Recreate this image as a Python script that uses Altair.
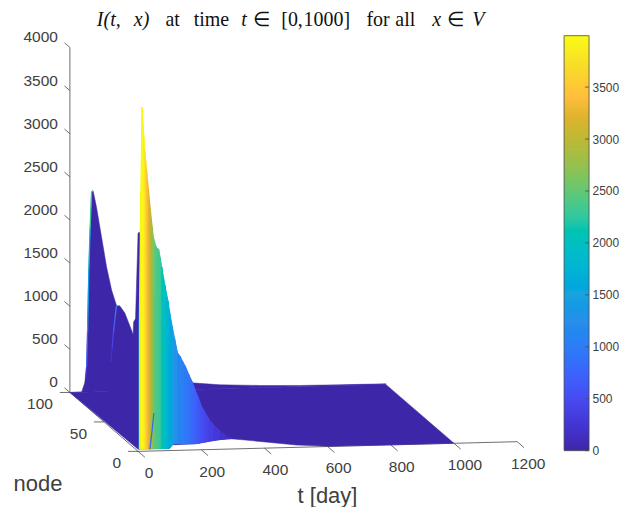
import numpy as np
import pandas as pd
import altair as alt

# ---------- data ----------
# colour scale
cmap_values = [0, 250, 500, 750, 1000, 1250, 1500, 1850, 2250, 2500, 2750, 3000, 3200, 3400, 3700, 3995]
cmap_colors = ["#3E26A8", "#4435D4", "#474BF2", "#3E64FB", "#2F7CF6", "#2A8EEA", "#1CA2DF", "#00B9CE",
               "#30C8A0", "#62C874", "#96C04E", "#BDB936", "#DDB32E", "#FFBE3C", "#F8DC28", "#F9FB15"]
cbar_ticks = [0, 500, 1000, 1500, 2000, 2500, 3000, 3500]

t_ticks = [0, 200, 400, 600, 800, 1000, 1200]
node_ticks = [0, 50, 100]
z_ticks = [0, 500, 1000, 1500, 2000, 2500, 3000, 3500, 4000]

# back ridges, (t, I) at one node each
ridge_a_node = 100
ridge_a_t = [0, 37, 47, 53, 60, 68.6, 73.6, 84, 100, 116, 132, 148, 170, 200, 260, 320, 350, 385, 474, 600, 727, 850, 1000]
ridge_a_i = [0, 0, 108, 296, 1414, 2320, 2330, 2145, 1796, 1448, 1176, 990, 700, 450, 200, 110, 95, 76, 45, 25, 13, 9, 7]
ridge_b_node = 63
ridge_b_t = [33, 41, 50, 58, 67.6, 78, 94, 115, 140, 170, 200]
ridge_b_i = [0, 318, 600, 950, 1250, 1250, 1165, 967, 700, 450, 300]
ridge_c_node = 33
ridge_c_t = [32, 45, 52, 57, 63, 75, 100, 130]
ridge_c_i = [0, 300, 800, 1270, 1305, 1250, 1000, 600]
ridge_d_node = 26
ridge_d_t = [35, 40, 44, 48, 51, 56, 60.7, 70, 90, 130, 200]
ridge_d_i = [50, 400, 900, 1354, 1728, 2350, 2358, 2200, 1900, 1300, 500]

# colour-coded edges of the ridges
edge_a_t = [50, 53, 56, 60, 64, 68.6, 73]
edge_a_i = [150, 296, 700, 1414, 1900, 2320, 2330]
edge_b_t = [50, 54, 58, 63, 67.6, 72]
edge_b_i = [600, 770, 950, 1110, 1250, 1250]
edge_b_c = [60, 200, 420, 750, 1000, 1100]

# front wall at node 0: top, colour and lower rim
front_t = [3, 5, 8.5, 12.6, 15, 18, 21, 24, 27, 30, 33, 36, 39, 42, 45, 48, 52, 56, 60, 65, 70, 75, 80, 85, 90, 95, 100,
           108, 116, 125, 133, 141, 150, 160, 170, 180, 190, 200, 212, 225, 240, 260, 280, 295]
front_i = [1500, 1870, 3000, 3990, 3830, 3660, 3490, 3370, 3260, 3140, 3030, 2910, 2800, 2690, 2590, 2490, 2430, 2375,
           2345, 2340, 2240, 2130, 2020, 1920, 1820, 1730, 1600, 1440, 1290, 1130, 1090, 1030, 970, 880, 800, 700, 610,
           510, 430, 350, 280, 210, 150, 125]
front_c = [1500, 3850, 3950, 3990, 3950, 3900, 3800, 3650, 3450, 3350, 3250, 3150, 3000, 2900, 2750, 2620, 2500, 2430,
           2380, 2340, 2240, 2130, 2020, 1920, 1820, 1730, 1600, 1440, 1290, 1130, 1090, 1030, 970, 880, 800, 700, 610,
           510, 430, 350, 280, 210, 150, 125]
front_low = [25, 25, 25, 25, 25, 25, 25, 25, 25, 25, 25, 25, 25, 25, 25, 25, 25, 25, 25, 25, 25, 25, 25, 25, 25, 25, 28,
             65, 78, 80, 78, 76, 74, 72, 72, 72, 75, 82, 90, 100, 108, 113, 118, 120]
low_t = [0, 100, 108, 184, 258, 290, 330, 394, 501, 605, 1000]
low_i = [25, 28, 65, 72, 111, 120, 104, 75, 27, 2, 0]

streak_t = [37, 41, 45, 50]
streak_i = [20, 130, 260, 440]
streak_c = [800, 800, 800, 800]


# ---------- view of the 3-D box ----------
def px(t, n):
    return 138.3 + 0.3164 * np.asarray(t, float) - 0.683 * np.asarray(n, float)


def py(t, n, z):
    return 451.7 - 0.0081 * np.asarray(t, float) - 0.59 * np.asarray(n, float) - 0.0864 * np.asarray(z, float)


XS = alt.Scale(domain=[8, 564], nice=False, zero=False)
YS = alt.Scale(domain=[504, 8], nice=False, zero=False)
CS = alt.Scale(domain=cmap_values, range=cmap_colors, clamp=True)
X = alt.X("x:Q", scale=XS, axis=None)
Y = alt.Y("y:Q", scale=YS, axis=None)
Y2 = alt.Y2("y2:Q")
DARK = cmap_colors[0]
AX = "#4a4a4a"
TXT = "#404040"
SANS = "Liberation Sans"

# floor of the surface
top_x = px([0, 1000, 1000], [100, 100, 0])
top_y = py([0, 1000, 1000], [100, 100, 0], [0, 0, 0])
low_x = np.r_[px(0, 100), px(low_t, 0)]
low_y = np.r_[py(0, 100, 0), py(low_t, 0, low_i)]
fx = np.unique(np.r_[top_x, low_x])
floor = pd.DataFrame({"x": fx, "y": np.interp(fx, top_x, top_y), "y2": np.interp(fx, low_x, low_y)})
floor_layer = alt.Chart(floor).mark_area(color=DARK, stroke=DARK, strokeWidth=0.5).encode(x=X, y=Y, y2=Y2)

# dark ridges
rows = []
for name, n, ts, zs in [("a", ridge_a_node, ridge_a_t, ridge_a_i), ("b", ridge_b_node, ridge_b_t, ridge_b_i),
                        ("c", ridge_c_node, ridge_c_t, ridge_c_i), ("d", ridge_d_node, ridge_d_t, ridge_d_i)]:
    for t, z in zip(ts, zs):
        rows.append({"r": name, "x": float(px(t, n)), "y": float(py(t, n, z)), "y2": float(py(t, n, 0))})
ridge_layer = alt.Chart(pd.DataFrame(rows)).mark_area(color=DARK, stroke=DARK, strokeWidth=0.5).encode(
    x=X, y=Y, y2=Y2, detail="r:N")


# colour-coded edges
def edge_rows(groups):
    out = []
    k = 0
    for n, ts, zs, cs in groups:
        for i in range(len(ts) - 1):
            for j in (i, i + 1):
                out.append({"s": k, "o": j, "x": float(px(ts[j], n)), "y": float(py(ts[j], n, zs[j])), "c": cs[i + 1]})
            k += 1
    return pd.DataFrame(out)


def edge_chart(groups):
    return alt.Chart(edge_rows(groups)).mark_line(strokeWidth=1.3).encode(
        x=X, y=Y, detail="s:N", order="o:Q", color=alt.Color("c:Q", scale=CS, legend=None))


edge_layer = edge_chart([(ridge_a_node, edge_a_t, edge_a_i, edge_a_i), (ridge_b_node, edge_b_t, edge_b_i, edge_b_c)])
streak_layer = edge_chart([(0, streak_t, streak_i, streak_c)])

# front wall, one coloured trapezoid per pair of readings
rows = []
for i in range(len(front_t) - 1):
    for j in (i, i + 1):
        rows.append({"s": i, "x": float(px(front_t[j], 0)), "y": float(py(front_t[j], 0, front_i[j])),
                     "y2": float(py(front_t[j], 0, front_low[j])), "c": front_c[i]})
wall_layer = alt.Chart(pd.DataFrame(rows)).mark_area(strokeWidth=1).encode(
    x=X, y=Y, y2=Y2, detail="s:N",
    color=alt.Color("c:Q", scale=CS, legend=None),
    stroke=alt.Stroke("c:Q", scale=CS, legend=None))

# axes
rows = [
    {"x": px(0, 100), "y": py(0, 100, 0), "x2": px(0, 100), "y2": py(0, 100, 4000)},
    {"x": px(0, 100), "y": py(0, 100, 0), "x2": px(0, 0), "y2": py(0, 0, 0)},
    {"x": px(0, 0), "y": py(0, 0, 0), "x2": px(1200, 0), "y2": py(1200, 0, 0)},
]
for v in z_ticks:
    rows.append({"x": px(0, 100), "y": py(0, 100, v), "x2": px(0, 108), "y2": py(0, 108, v)})
for v in node_ticks:
    rows.append({"x": px(0, v), "y": py(0, v, 0), "x2": px(-32, v), "y2": py(0, v, 0)})
for v in t_ticks:
    rows.append({"x": px(v, 0), "y": py(v, 0, 0), "x2": px(v, -10), "y2": py(v, -10, 0)})
axis_layer = alt.Chart(pd.DataFrame(rows).astype(float)).mark_rule(color=AX, strokeWidth=0.8).encode(
    x=X, y=Y, x2="x2:Q", y2=Y2)

z_df = pd.DataFrame({"x": px(0, 100) + 0 * np.array(z_ticks), "y": py(0, 100, z_ticks), "s": [str(v) for v in z_ticks]})
n_df = pd.DataFrame({"x": px(0, node_ticks), "y": py(0, node_ticks, 0), "s": [str(v) for v in node_ticks]})
t_df = pd.DataFrame({"x": px(t_ticks, 0), "y": py(t_ticks, 0, 0), "s": [str(v) for v in t_ticks]})
z_txt = alt.Chart(z_df).mark_text(align="right", baseline="middle", dx=-12, dy=-10, font=SANS, fontSize=15.5,
                                  color=TXT).encode(x=X, y=Y, text="s:N")
n_txt = alt.Chart(n_df).mark_text(align="right", baseline="middle", dx=-17, dy=12, font=SANS, fontSize=15.5,
                                  color=TXT).encode(x=X, y=Y, text="s:N")
t_txt = alt.Chart(t_df).mark_text(align="center", baseline="middle", dx=11, dy=22, font=SANS, fontSize=15.5,
                                  color=TXT).encode(x=X, y=Y, text="s:N")

one = pd.DataFrame({"a": [0]})


def label(text, x, y, size, font=SANS, style="normal", align="left", color=TXT):
    return alt.Chart(one).mark_text(text=text, align=align, baseline="middle", font=font, fontSize=size,
                                    fontStyle=style, color=color).encode(x=alt.value(x - 8), y=alt.value(y - 8))


SERIF = "Liberation Serif"
title_tokens = [("I(t,", 97, "italic"), ("x)", 134, "italic"), ("at", 165.7, "normal"), ("time", 194, "normal"),
                ("t", 241.7, "italic"), ("∈", 253, "normal"), ("[0,", 281.7, "normal"), ("1000]", 304, "normal"),
                ("for", 367, "normal"), ("all", 396, "normal"), ("x", 433, "italic"), ("∈", 448, "normal"),
                ("V", 473, "italic")]
titles = [label("node", 38, 484, 22, align="center"), label("t [day]", 328, 496, 22, align="center")]
for word, left, style in title_tokens:
    titles.append(label(word, left, 20, 20, SERIF, style, color="#111111"))

main = alt.layer(axis_layer, floor_layer, ridge_layer, edge_layer, wall_layer, streak_layer,
                 z_txt, n_txt, t_txt, *titles).properties(width=556, height=496)

# colour bar
edges = np.linspace(0, 3995, 209)
bar_df = pd.DataFrame({"lo": edges[:-1], "hi": edges[1:] + 12, "c": edges[:-1] + 10})
bar_df.loc[bar_df.index[-1], "hi"] = 3995
CY = alt.Scale(domain=[0, 3995], range=[443, 27.3], nice=False, zero=False)
bar = alt.Chart(bar_df).mark_rect().encode(
    x=alt.value(0), x2=alt.value(25),
    y=alt.Y("lo:Q", scale=CY, axis=alt.Axis(orient="right", values=cbar_ticks, ticks=False, domain=False, grid=False,
                                            title=None, labelFont=SANS, labelFontSize=12, labelColor=TXT, format="d",
                                            labelPadding=3, labelFlush=False, labelBound=False, labelOverlap=False,
                                            offset=0)),
    y2="hi:Q", color=alt.Color("c:Q", scale=CS, legend=None))
frame = alt.Chart(pd.DataFrame({"lo": [0], "hi": [3995]})).mark_rect(filled=False, stroke=AX, strokeWidth=0.8).encode(
    x=alt.value(0), x2=alt.value(25), y=alt.Y("lo:Q", scale=CY), y2="hi:Q")
tick = alt.Chart(pd.DataFrame({"v": cbar_ticks})).mark_rule(color=AX, strokeWidth=0.8).encode(
    x=alt.value(21), x2=alt.value(25), y=alt.Y("v:Q", scale=CY))
colorbar = alt.layer(bar, frame, tick).properties(width=25, height=496)

chart = alt.hconcat(main, colorbar, spacing=0).resolve_scale(color="independent", y="independent", x="independent")
chart = chart.properties(padding=0).configure_view(stroke=None)
chart.save("out.html", embed_options={"renderer": "svg", "actions": False})
